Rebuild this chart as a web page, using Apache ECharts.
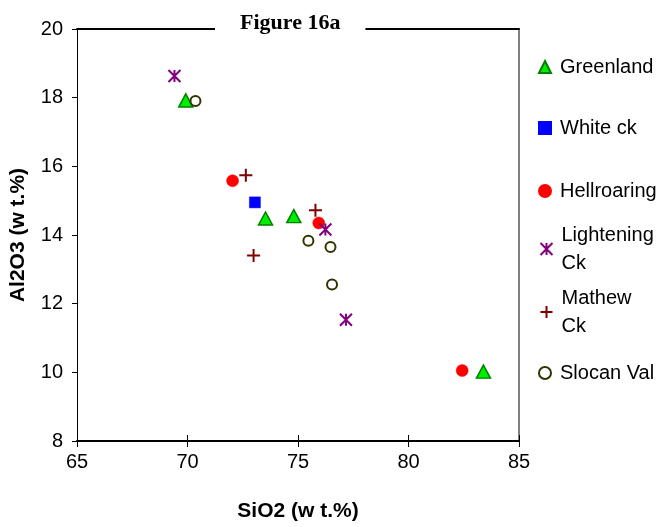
<!DOCTYPE html>
<html>
<head>
<meta charset="utf-8">
<script src="https://cdn.jsdelivr.net/npm/echarts@6/dist/echarts.min.js"></script>
<style>html,body{margin:0;padding:0;background:#fff;}#c{width:665px;height:527px;}</style>
</head>
<body>
<div id="c"></div>
<script>
// ---- data ----
const seriesNames = ['Greenland', 'White ck', 'Hellroaring', 'Lightening Ck', 'Mathew Ck', 'Slocan Val'];
const greenlandSiO2 = [69.92, 73.53, 74.81, 83.39];
const greenlandAl2O3 = [17.92, 14.48, 14.55, 10.02];
const whiteSiO2 = [73.05];
const whiteAl2O3 = [14.95];
const hellSiO2 = [72.04, 75.94, 82.43];
const hellAl2O3 = [15.58, 14.35, 10.05];
const lightSiO2 = [69.41, 76.24, 77.17];
const lightAl2O3 = [18.63, 14.16, 11.53];
const mathewSiO2 = [72.64, 75.79, 72.99];
const mathewAl2O3 = [15.74, 14.72, 13.40];
const slocanSiO2 = [70.36, 75.47, 76.47, 76.54];
const slocanAl2O3 = [17.90, 13.83, 13.65, 12.56];
const xTicks = [65, 70, 75, 80, 85];
const yTicks = [8, 10, 12, 14, 16, 18, 20];

function pairs(xs, ys) { return xs.map((x, i) => [x, ys[i]]); }

const FONT = '"Liberation Sans", Arial, sans-serif';
const FS = 20;
const starPath = 'path://M0,0L10,10M10,0L0,10M5,0L5,10';
const plusPath = 'path://M5,0L5,10M0,5L10,5';

const chart = echarts.init(document.getElementById('c'), null, {renderer: 'canvas'});

const legendDefs = [
  {name: 'Greenland', top: 53, text: 'Greenland'},
  {name: 'White ck', top: 114, text: 'White ck'},
  {name: 'Hellroaring', top: 177, text: 'Hellroaring'},
  {name: 'Lightening Ck', top: 207, text: 'Lightening\nCk', two: true},
  {name: 'Mathew Ck', top: 270, text: 'Mathew\nCk', two: true},
  {name: 'Slocan Val', top: 359, text: 'Slocan Val'}
];

const legends = legendDefs.map(d => ({
  show: true,
  orient: 'vertical',
  left: 538,
  top: d.top,
  padding: 0,
  itemWidth: 12,
  itemHeight: 12,
  selectedMode: false,
  data: [d.name],
  formatter: () => d.text,
  textStyle: {
    fontFamily: FONT, fontSize: FS, color: '#000', lineHeight: 28,
    padding: d.two ? [28, 0, 0, 4] : [0, 0, 0, 4]
  }
}));

const option = {
  animation: false,
  backgroundColor: '#fff',
  title: {
    text: 'Figure 16a',
    left: 215,
    top: 10,
    padding: [2, 25, 2, 25],
    backgroundColor: '#fff',
    textStyle: {fontFamily: '"Liberation Serif", "Times New Roman", serif', fontWeight: 'bold', fontSize: 22, color: '#000'}
  },
  legend: legends,
  grid: {left: 76, right: 146, top: 29, bottom: 85, containLabel: false},
  xAxis: [
    {
      type: 'value', min: 65, max: 85, interval: 5, position: 'bottom',
      name: 'SiO2 (w t.%)', nameLocation: 'middle', nameGap: 60,
      nameTextStyle: {fontFamily: FONT, fontSize: 21, fontWeight: 'bold', color: '#000'},
      axisLine: {show: true, lineStyle: {color: '#000', width: 2}},
      axisTick: {show: true, inside: true, length: 6, lineStyle: {color: '#000', width: 1}},
      axisLabel: {fontFamily: FONT, fontSize: FS, color: '#000', margin: 11,
        formatter: v => xTicks.includes(v) ? String(v) : ''},
      splitLine: {show: false}
    },
    {
      type: 'value', min: 65, max: 85, interval: 5, position: 'bottom',
      axisLine: {show: false},
      axisTick: {show: true, inside: false, length: 6, lineStyle: {color: '#000', width: 1}},
      axisLabel: {show: false},
      splitLine: {show: false}
    },
    {
      type: 'value', min: 65, max: 85, interval: 5, position: 'top',
      axisLine: {show: true, lineStyle: {color: '#000', width: 2}},
      axisTick: {show: false}, axisLabel: {show: false}, splitLine: {show: false}
    }
  ],
  yAxis: [
    {
      type: 'value', min: 8, max: 20, interval: 2, position: 'left',
      name: 'Al2O3 (w t.%)', nameLocation: 'middle', nameGap: 48,
      nameTextStyle: {fontFamily: FONT, fontSize: 21, fontWeight: 'bold', color: '#000'},
      axisLine: {show: true, lineStyle: {color: '#000', width: 1}},
      axisTick: {show: true, inside: false, length: 5, lineStyle: {color: '#000'}},
      axisLabel: {fontFamily: FONT, fontSize: FS, color: '#000', margin: 14,
        formatter: v => yTicks.includes(v) ? String(v) : ''},
      splitLine: {show: false}
    },
    {
      type: 'value', min: 8, max: 20, interval: 2, position: 'right',
      axisLine: {show: true, lineStyle: {color: '#808080', width: 2}},
      axisTick: {show: false}, axisLabel: {show: false}, splitLine: {show: false}
    }
  ],
  series: [
    {name: 'Greenland', type: 'scatter', symbol: 'triangle', symbolSize: [14, 13],
      itemStyle: {color: '#00ee00', borderColor: '#008000', borderWidth: 1.5, opacity: 1},
      data: pairs(greenlandSiO2, greenlandAl2O3)},
    {name: 'White ck', type: 'scatter', symbol: 'rect', symbolSize: 11,
      itemStyle: {color: '#0000ff', borderColor: '#0000ff', borderWidth: 0.5, opacity: 1},
      data: pairs(whiteSiO2, whiteAl2O3)},
    {name: 'Hellroaring', type: 'scatter', symbol: 'circle', symbolSize: 12,
      itemStyle: {color: '#ff0000', borderColor: '#ff0000', borderWidth: 0.5, opacity: 1},
      data: pairs(hellSiO2, hellAl2O3)},
    {name: 'Lightening Ck', type: 'scatter', symbol: starPath, symbolSize: 12,
      itemStyle: {color: 'none', borderColor: '#800080', borderWidth: 2, opacity: 1},
      data: pairs(lightSiO2, lightAl2O3)},
    {name: 'Mathew Ck', type: 'scatter', symbol: plusPath, symbolSize: 13,
      itemStyle: {color: 'none', borderColor: '#800000', borderWidth: 2, opacity: 1},
      data: pairs(mathewSiO2, mathewAl2O3)},
    {name: 'Slocan Val', type: 'scatter', symbol: 'circle', symbolSize: 10,
      itemStyle: {color: '#ffffff', borderColor: '#333300', borderWidth: 2, opacity: 1},
      data: pairs(slocanSiO2, slocanAl2O3)}
  ]
};
chart.setOption(option);
</script>
</body>
</html>
